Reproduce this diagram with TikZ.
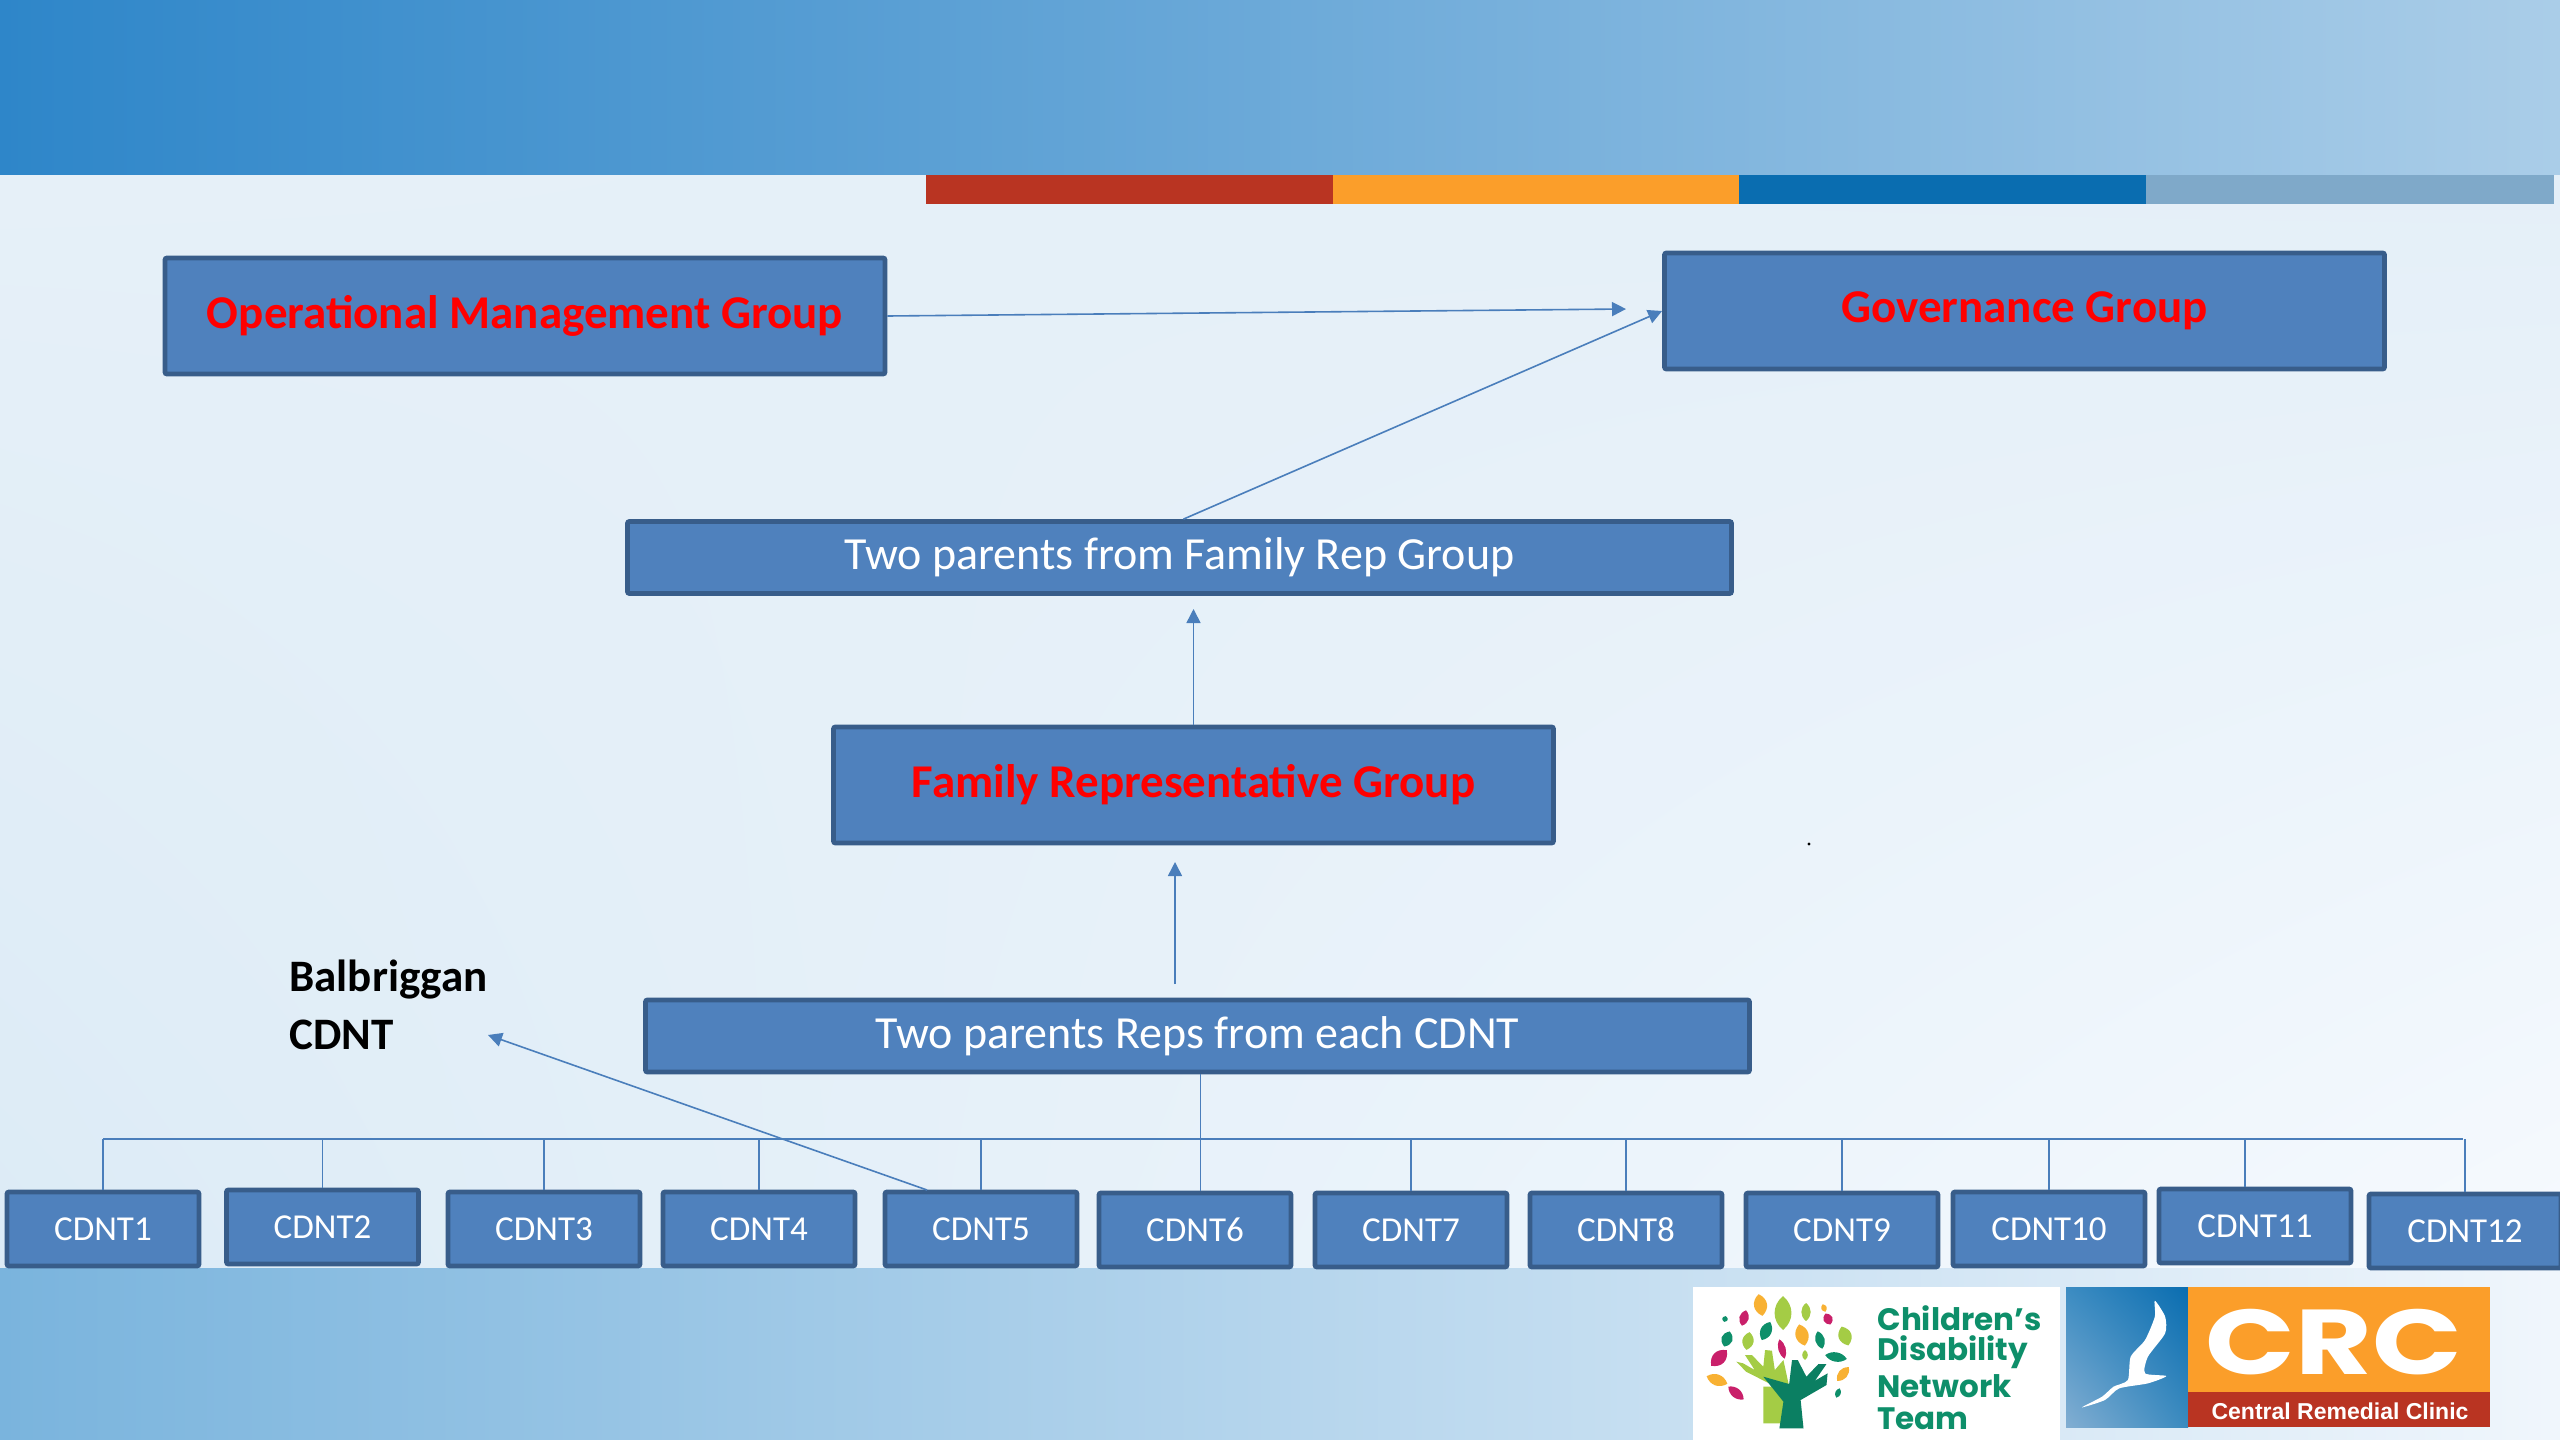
\documentclass[tikz,border=0pt]{standalone}
\usepackage{fontspec}
\setmainfont{Carlito}
\newfontfamily\logofont{Poppins}
\newfontfamily\clinicfont{Liberation Sans}
\usetikzlibrary{arrows.meta,shadings}
\definecolor{boxfill}{HTML}{4F81BD}
\definecolor{boxline}{HTML}{385D8A}
\definecolor{conn}{HTML}{4A7EBB}
\definecolor{lgreen}{HTML}{0E8F6A}
\definecolor{ldark}{HTML}{0B7F62}
\definecolor{llime}{HTML}{A4CC45}
\definecolor{lmag}{HTML}{C9206A}
\definecolor{lorange}{HTML}{F8B133}
\definecolor{crcorange}{HTML}{FB9E2A}
\definecolor{crcred}{HTML}{B93422}
\definecolor{crcblue}{HTML}{0A6DB0}
\definecolor{crcgrey}{HTML}{7FA9C9}
\definecolor{bgul}{HTML}{E6F0F8}
\definecolor{bgur}{HTML}{E4EFF8}
\definecolor{bgll}{HTML}{DCEBF6}
\definecolor{bglr}{HTML}{F6FAFE}
\definecolor{headl}{HTML}{2E86C9}
\definecolor{headr}{HTML}{AACDE8}
\definecolor{footl}{HTML}{7AB4DD}
\definecolor{footr}{HTML}{F0F6FC}
\definecolor{birdul}{HTML}{3C8CC2}
\definecolor{birdll}{HTML}{82AED2}
\definecolor{birdlr}{HTML}{3A8ABF}
\tikzset{
  boxbase/.style={draw=boxline,fill=boxfill,line width=2.4pt,rounded corners=1pt,inner sep=0pt,align=center},
  bigbox/.style={boxbase,minimum width=360pt,minimum height=58pt,font=\fontsize{23.5}{28}\selectfont\bfseries,text=red},
  widebox/.style={boxbase,minimum width=552pt,minimum height=36pt,font=\fontsize{23}{28}\selectfont,text=white},
  cdntbox/.style={boxbase,minimum width=96pt,minimum height=37pt,font=\fontsize{17.5}{21}\selectfont,text=white},
  linkline/.style={draw=conn,line width=0.8pt},
  arrowline/.style={linkline,-{Triangle[length=7pt,width=7pt]}}
}
\newcommand{\leaf}[6]{\begin{scope}[shift={(#1,#2)},rotate=#3]
  \fill[#6] (0,-#4) .. controls (#5*1.25,-#4*0.45) and (#5*1.25,#4*0.45) .. (0,#4) .. controls (-#5*1.25,#4*0.45) and (-#5*1.25,-#4*0.45) .. (0,-#4) -- cycle;
\end{scope}}
\begin{document}
\begin{tikzpicture}[x=0.5pt,y=-0.5pt]
\useasboundingbox (0,0) rectangle (2560,1440);
% backgrounds
\shade[shading=bilinear interpolation,upper left=bgul,upper right=bgur,lower left=bgll,lower right=bglr] (0,174) rectangle (2560,1270);
\shade[left color=headl,right color=headr] (0,0) rectangle (2560,174);
\shade[left color=footl,right color=footr] (0,1268) rectangle (2560,1440);
% colour bars
\fill[crcred] (926,175) rectangle (1333,204);
\fill[crcorange] (1333,175) rectangle (1739,204);
\fill[crcblue] (1739,175) rectangle (2146,204);
\fill[crcgrey] (2146,175) rectangle (2554,204);
% main boxes
\node[bigbox] (omg) at (525,316) {Operational Management Group};
\node[bigbox] (gov) at (2024.5,311) {Governance Group};
\node[widebox] (fam) at (1179.5,557.5) {Two parents from Family Rep Group};
\node[bigbox] (frg) at (1193.5,785) {Family Representative Group};
\node[widebox] (reps) at (1197.5,1036) {Two parents Reps from each CDNT};
% CDNT row
\node[cdntbox] (c1) at (103,1229) {CDNT1};
\node[cdntbox] (c2) at (322.5,1227) {CDNT2};
\node[cdntbox] (c3) at (544,1229) {CDNT3};
\node[cdntbox] (c4) at (759,1229) {CDNT4};
\node[cdntbox] (c5) at (981,1229) {CDNT5};
\node[cdntbox] (c6) at (1195,1230) {CDNT6};
\node[cdntbox] (c7) at (1411,1230) {CDNT7};
\node[cdntbox] (c8) at (1626,1230) {CDNT8};
\node[cdntbox] (c9) at (1842,1230) {CDNT9};
\node[cdntbox] (c10) at (2049,1229) {CDNT10};
\node[cdntbox] (c11) at (2255,1226) {CDNT11};
\node[cdntbox] (c12) at (2465,1231) {CDNT12};
% label
\node[anchor=west,align=left,inner sep=0pt,font=\fontsize{22.5}{29}\selectfont\bfseries] (balb) at (289,1005) {Balbriggan\\CDNT};
% connector coordinates
\coordinate (omgEnd) at (1626,309);
\coordinate (repsStart) at (1175,984);
\coordinate (repsEnd) at (1175,862);
\coordinate (famEnd) at (1195,609);
\coordinate (balbEnd) at (488,1035);
\coordinate (balbStart) at (927,1190);
\coordinate (busL) at (103,1139);
\coordinate (busR) at (2463,1139);
% connectors
\draw[arrowline] (omg.east) -- (omgEnd);
\draw[arrowline] ([xshift=2pt]fam.north) -- (gov.west);
\draw[arrowline] (frg.north) -- (frg.north |- famEnd);
\draw[arrowline] (repsStart) -- (repsEnd);
\draw[arrowline] (balbStart) -- (balbEnd);
\draw[linkline,line width=1.1pt] (busL) -- (busR);
\draw[linkline] ([xshift=1.5pt]reps.south) -- ([xshift=1.5pt]reps.south |- c6.north);
\foreach \c in {c1,c2,c3,c4,c5,c7,c8,c9,c10,c12}{\draw[linkline] (\c.north) -- (\c.north |- busL);}
\draw[linkline] ([xshift=-5pt]c11.north) -- ([xshift=-5pt]c11.north |- busL);
% stray dot
\fill[black] (1809,844) circle (1.6);
% CDNT logo
\fill[white] (1693,1287) rectangle (2060,1440);
\leaf{1760.5}{1305}{10}{11}{7}{lorange}
\leaf{1783}{1313}{0}{17}{9}{llime}
\leaf{1806}{1312}{0}{9}{5}{llime}
\leaf{1824}{1308}{20}{4}{3}{lorange}
\leaf{1744}{1318}{-15}{8}{5}{lmag}
\leaf{1725}{1319}{-15}{3}{3}{lgreen}
\leaf{1828}{1319}{25}{6}{5}{lmag}
\leaf{1766}{1331}{-25}{10}{6}{lgreen}
\leaf{1845}{1336}{20}{10}{7}{llime}
\leaf{1802}{1335}{15}{11}{7}{lorange}
\leaf{1727}{1339}{-20}{8}{6}{lgreen}
\leaf{1748}{1341}{-10}{9}{6}{llime}
\leaf{1820}{1340}{15}{9}{5}{lgreen}
\leaf{1782}{1349}{15}{10}{4}{lmag}
\leaf{1805}{1355}{0}{5}{3}{llime}
\leaf{1719}{1358}{-45}{11}{7}{lmag}
\leaf{1836}{1357}{80}{11}{5}{lgreen}
\leaf{1717}{1380}{70}{11}{6}{lorange}
\leaf{1843}{1374}{-40}{9}{5}{lorange}
\leaf{1736}{1393}{50}{10}{5}{lmag}
\leaf{1838}{1393}{-20}{5}{3}{lgreen}
\begin{scope}[shift={(1660,1260)},x=0.287pt,y=-0.1667pt]
\fill[llime] (180,490) -- (215,490) -- (222,400) -- (190,370) -- (150,335) -- (133,305) -- (145,310) -- (165,330) -- (148,285) -- (160,285) -- (180,320) -- (183,270) -- (195,272) -- (200,330) -- (215,300) -- (225,380) -- (180,380) -- cycle;
\fill[ldark] (208,505) -- (250,505) -- (245,420) -- (290,375) -- (292,340) -- (270,362) -- (290,312) -- (276,312) -- (255,350) -- (240,300) -- (230,300) -- (225,372) -- (180,350) -- (195,382) -- (215,425) -- cycle;
\end{scope}
\node[anchor=west,inner sep=0pt,text=lgreen,font=\logofont\bfseries\fontsize{15.5}{17}\selectfont] (lg1) at (1877,1318) {Children’s};
\node[anchor=west,inner sep=0pt,text=lgreen,font=\logofont\bfseries\fontsize{15.5}{17}\selectfont] (lg2) at (1877,1352) {Disability};
\node[anchor=west,inner sep=0pt,text=lgreen,font=\logofont\bfseries\fontsize{15.5}{17}\selectfont] (lg3) at (1877,1386) {Network};
\node[anchor=west,inner sep=0pt,text=lgreen,font=\logofont\bfseries\fontsize{15.5}{17}\selectfont] (lg4) at (1877,1419) {Team};
% CRC logo
\shade[shading=bilinear interpolation,upper left=birdul,upper right=crcblue,lower left=birdll,lower right=birdlr] (2066,1287) rectangle (2188,1427);
\fill[crcorange] (2188,1287) rectangle (2490,1392);
\fill[crcred] (2188,1392) rectangle (2490,1427);
\begin{scope}[shift={(1660,1260)},x=0.287pt,y=-0.1667pt]
\fill[white] plot[smooth cycle,tension=0.4] coordinates {(862,122) (880,170) (880,220) (850,290) (845,340) (882,348) (850,370) (800,385) (775,420) (735,442) (770,410) (790,380) (815,360) (820,290) (845,240) (862,170)};
\end{scope}
\node[inner sep=0pt,text=white,xscale=1.28,font=\logofont\bfseries\fontsize{46}{50}\selectfont] (crc) at (2334,1342) {CRC};
\node[inner sep=0pt,text=white,font=\clinicfont\bfseries\fontsize{11.5}{13}\selectfont] (crcname) at (2340,1411) {Central Remedial Clinic};
\end{tikzpicture}
\end{document}
